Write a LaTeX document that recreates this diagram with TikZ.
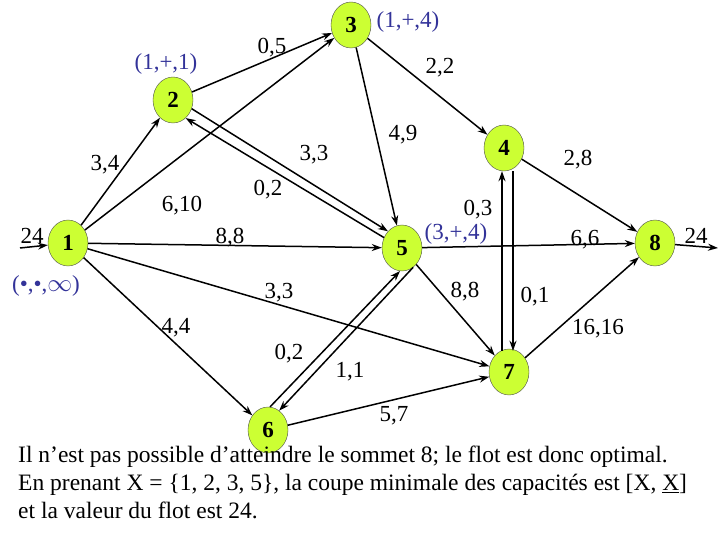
\documentclass[tikz,border=0pt]{standalone}
\usepackage{fontspec}
\setmainfont{Liberation Serif}
\usetikzlibrary{shapes.geometric,arrows.meta,calc}
\begin{document}
\begin{tikzpicture}[x=1pt,y=-1pt,
  vtx/.style={ellipse,draw=black!70,fill={rgb,255:red,204;green,255;blue,51},minimum width=40pt,minimum height=46pt,inner sep=0pt,font=\fontsize{23}{23}\selectfont\bfseries},
  arc/.style={-{Stealth[length=10pt,width=7pt]},line width=1.5pt},
  lab/.style={font=\fontsize{23}{23}\selectfont},
  vlabel/.style={font=\fontsize{23}{23}\selectfont,text={rgb,255:red,51;green,51;blue,153}}]
\useasboundingbox (0,0) rectangle (720,540);
\node[vtx] (n1) at (68,243) {1};
\node[vtx] (n2) at (173,100) {2};
\node[vtx] (n3) at (351,25) {3};
\node[vtx] (n4) at (504,148) {4};
\node[vtx] (n5) at (402,248) {5};
\node[vtx] (n6) at (268,430) {6};
\node[vtx] (n7) at (509,372) {7};
\node[vtx] (n8) at (655,243) {8};
\coordinate (in) at (20,248);
\coordinate (out) at (718,248);
\draw[arc] (in) -- (n1);
\draw[arc] (n8) -- (out);
\draw[arc] (n1) -- (n2);
\draw[arc] (n1) -- (n3);
\draw[arc] (n1) -- (n5);
\draw[arc] (n1) -- (n7);
\draw[arc] (n1) -- (n6);
\draw[arc] (n2) -- (n3);
\draw[arc] (n2.-25) -- (n5.130);
\draw[arc] (n5.150) -- (n2.-55);
\draw[arc] (n3) -- (n4);
\draw[arc] (n3) -- (n5);
\draw[arc] (n4) -- (n8);
\draw[arc] ($(n7.north)+(-7,2)$) -- ($(n4.south)+(-2,0)$);
\draw[arc] ($(n4.south)+(9,0)$) -- ($(n7.north)+(4,2)$);
\draw[arc] (n5) -- (n8);
\draw[arc] (n5) -- (n7);
\draw[arc] (n5.-60) -- (n6.60);
\draw[arc] (n6.85) -- (n5.-95);
\draw[arc] (n6) -- (n7);
\draw[arc] (n7) -- (n8);
\node[lab] (l24a) at (32,236) {24};
\node[lab] (l24b) at (696,236) {24};
\node[lab] (l34) at (105,165) {3,4};
\node[lab] (l610) at (182,206) {6,10};
\node[lab] (l88) at (230,238) {8,8};
\node[lab] (l05) at (272,48) {0,5};
\node[lab] (l22) at (440,68) {2,2};
\node[lab] (l49) at (403,135) {4,9};
\node[lab] (l331) at (314,155) {3,3};
\node[lab] (l02a) at (268,190) {0,2};
\node[lab] (l28) at (578,160) {2,8};
\node[lab] (l03) at (478,210) {0,3};
\node[lab] (l66) at (585,240) {6,6};
\node[lab] (l332) at (279,293) {3,3};
\node[lab] (l88b) at (465,292) {8,8};
\node[lab] (l01) at (535,297) {0,1};
\node[lab] (l44) at (176,328) {4,4};
\node[lab] (l1616) at (598,329) {16,16};
\node[lab] (l02b) at (289,354) {0,2};
\node[lab] (l11) at (350,372) {1,1};
\node[lab] (l57) at (394,416) {5,7};
\node[vlabel] (m1) at (166,64) {(1,+,1)};
\node[vlabel] (m3) at (408,22) {(1,+,4)};
\node[vlabel] (m5) at (456,234) {(3,+,4)};
\node[vlabel] (m0) at (46,286) {(\textbullet,\textbullet,$\infty$)};
\node[font=\fontsize{23.5}{28}\selectfont,anchor=north west,align=left,inner sep=0pt] (txt) at (18,446) {Il n’est pas possible d’atteindre le sommet 8; le flot est donc optimal.\\
En prenant X = \{1, 2, 3, 5\}, la coupe minimale des capacités est [X, \underline{X}]\\
et la valeur du flot est 24.};
\end{tikzpicture}
\end{document}
